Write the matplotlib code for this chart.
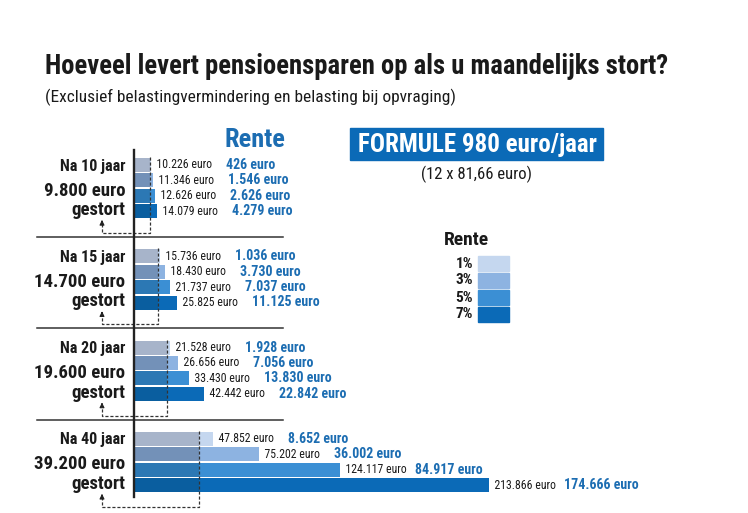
import matplotlib.pyplot as plt
from matplotlib.patches import Rectangle

# ======================================================
# Data
# ======================================================
years = [10, 15, 20, 40]
gestort = [9800, 14700, 19600, 39200]
rates = ["1%", "3%", "5%", "7%"]

eindkapitaal = [
    [10226, 11346, 12626, 14079],
    [15736, 18430, 21737, 25825],
    [21528, 26656, 33430, 42442],
    [47852, 75202, 124117, 213866],
]
rente = [
    [426, 1546, 2626, 4279],
    [1036, 3730, 7037, 11125],
    [1928, 7056, 13830, 22842],
    [8652, 36002, 84917, 174666],
]

light = ["#c5d7ef", "#8db3e1", "#3b8fd4", "#0b6ab7"]
dark = ["#a7b4ca", "#7391b8", "#2c78b4", "#0a5e9f"]
blue = "#1c6db2"
ink = "#1a1a1a"

plt.rcParams["font.family"] = ["Roboto Condensed", "DejaVu Sans"]
plt.rcParams["font.stretch"] = "condensed"

# ======================================================
# Layout helpers (pixel grid of 748 x 513)
# ======================================================
W, H = 748, 513
X0 = 134          # pixel of the zero line
S = 0.00166       # pixels per euro


def ex(px):
    # pixel x -> euro on the axis
    return (px - X0) / S


def fmt(v):
    return f"{v:,}".replace(",", ".")


fig = plt.figure(figsize=(W / 100, H / 100), dpi=100)
ax = fig.add_axes([0, 0, 1, 1])
ax.set_xlim(ex(0), ex(W))
ax.set_ylim(H, 0)
ax.axis("off")
r = fig.canvas.get_renderer()


def fit(t, width):
    # shrink / grow a text so that it spans the given pixel width
    bb = t.get_window_extent(r)
    t.set_fontsize(t.get_fontsize() * width / bb.width)


# titles
title = ax.text(ex(45), 74, "Hoeveel levert pensioensparen op als u maandelijks stort?",
                fontsize=20, fontweight="bold", color=ink, va="baseline")
fit(title, 620)
ax.text(ex(45), 102, "(Exclusief belastingvermindering en belasting bij opvraging)",
        fontsize=12.5, color=ink, va="baseline")
ax.text(ex(255), 147, "Rente", fontsize=19, fontweight="bold", color=blue,
        ha="center", va="baseline")

# formula box
ax.add_patch(Rectangle((ex(350), 128), ex(603) - ex(350), 32, color=light[3]))
formule = ax.text(ex(477), 145, "FORMULE 980 euro/jaar", fontsize=17,
                  fontweight="bold", color="white", ha="center", va="center")
fit(formule, 240)
ax.text(ex(476), 174, "(12 x 81,66 euro)", fontsize=12, color=ink,
        ha="center", va="center")

# legend
ax.text(ex(466), 240, "Rente", fontsize=14, fontweight="bold", color=ink,
        ha="center", va="center")
for i, rt in enumerate(rates):
    yy = 256 + 17 * i
    ax.add_patch(Rectangle((ex(478), yy), ex(509) - ex(478), 15, color=light[i]))
    ax.text(ex(473), yy + 7.5, rt, fontsize=11, fontweight="bold", color=ink,
            ha="right", va="center")

# ======================================================
# Bars
# ======================================================
GAP = 91.3
PITCH = 15.4
black_labels = []

for g in range(len(years)):
    base = 165 + GAP * g
    dep = gestort[g]

    ax.text(ex(125), base + 5.5, f"Na {years[g]} jaar", fontsize=11.5,
            fontweight="bold", color=ink, ha="right", va="baseline")
    ax.text(ex(125), base + 30.5, f"{fmt(dep)} euro", fontsize=13.5,
            fontweight="bold", color=ink, ha="right", va="baseline")
    ax.text(ex(125), base + 50, "gestort", fontsize=13.5,
            fontweight="bold", color=ink, ha="right", va="baseline")

    for i in range(len(rates)):
        y = base + PITCH * i
        v = eindkapitaal[g][i]
        ax.barh(y, min(v, dep), height=14, color=dark[i])
        ax.barh(y, v - dep, left=dep, height=14, color=light[i])
        t = ax.text(v, y, f"  {fmt(v)} euro", fontsize=8.5, color=ink,
                    va="center")
        black_labels.append((t, v, y, rente[g][i]))

    # dashed guide from deposited amount back to the label
    top = base - 8
    bot = base + 68
    ax.plot([dep, dep, ex(102), ex(102)], [top, bot, bot, base + 59],
            color="#333333", lw=0.9, ls=(0, (2.5, 1.5)))
    ax.annotate("", xy=(ex(102), base + 55), xytext=(ex(102), base + 60),
                arrowprops=dict(arrowstyle="-|>", color="#222222", lw=0.8,
                                mutation_scale=7))

    if g < len(years) - 1:
        ax.plot([ex(37), ex(283)], [base + 72, base + 72], color="#333333", lw=1.1)

ax.plot([0, 0], [150, 497], color="#222222", lw=1.7)

# blue interest labels after the black ones
for t, v, y, rn in black_labels:
    bb = t.get_window_extent(r)
    px = max(bb.x1 + 7, X0 + v * S + 75)
    ax.text(ex(px), y, f"{fmt(rn)} euro", fontsize=10, fontweight="bold",
            color=blue, va="center")

fig.savefig("out.png", dpi=100)
